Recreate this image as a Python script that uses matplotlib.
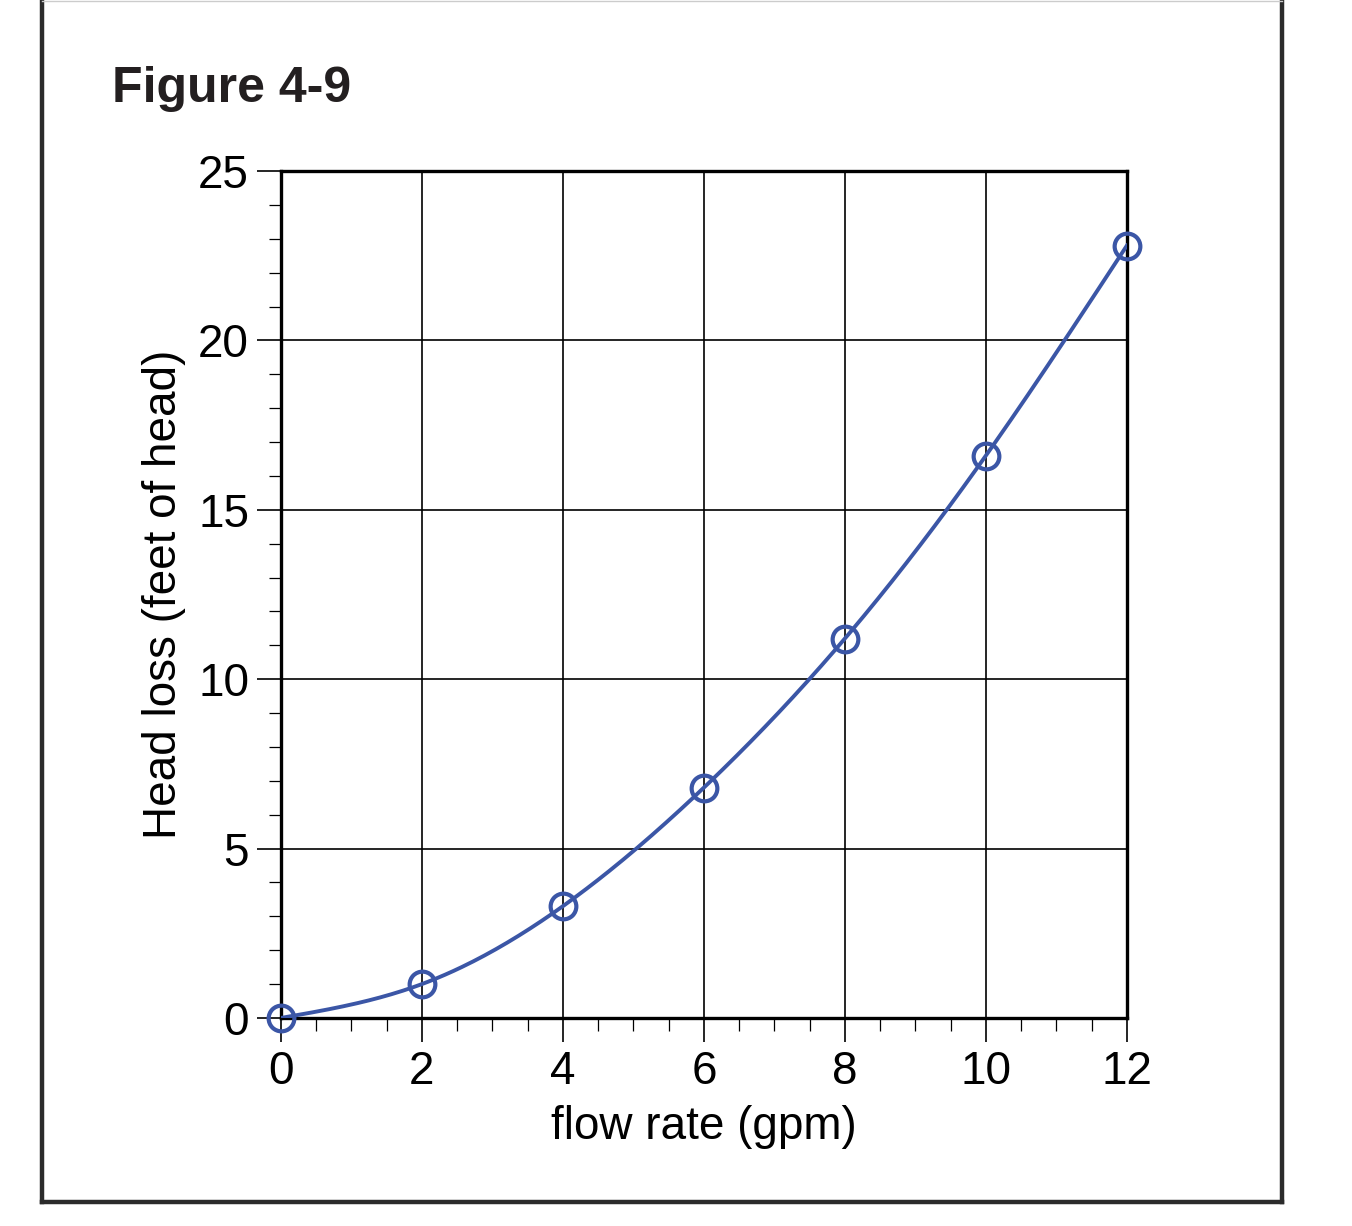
import numpy as np
import matplotlib.pyplot as plt
from matplotlib.lines import Line2D
from matplotlib.ticker import MultipleLocator

# data
flow_gpm = [0, 2, 4, 6, 8, 10, 12]
head_loss_ft = [0.0, 1.0, 3.3, 6.8, 11.2, 16.6, 22.8]

x_ticks = [0, 2, 4, 6, 8, 10, 12]
y_ticks = [0, 5, 10, 15, 20, 25]

BLUE = "#3b56a6"
plt.rcParams["font.family"] = ["Liberation Sans", "DejaVu Sans"]


# natural cubic spline through the points for the smooth curve
def natural_spline(x, y, n=300):
    x = np.asarray(x, float)
    y = np.asarray(y, float)
    k = len(x)
    h = np.diff(x)
    A = np.zeros((k, k))
    b = np.zeros(k)
    A[0, 0] = A[-1, -1] = 1
    for i in range(1, k - 1):
        A[i, i - 1] = h[i - 1]
        A[i, i] = 2 * (h[i - 1] + h[i])
        A[i, i + 1] = h[i]
        b[i] = 6 * ((y[i + 1] - y[i]) / h[i] - (y[i] - y[i - 1]) / h[i - 1])
    m = np.linalg.solve(A, b)
    xs = np.linspace(x[0], x[-1], n)
    idx = np.clip(np.searchsorted(x, xs) - 1, 0, k - 2)
    x0, x1 = x[idx], x[idx + 1]
    hh = x1 - x0
    t0, t1 = x1 - xs, xs - x0
    ys = (m[idx] * t0**3 / (6 * hh) + m[idx + 1] * t1**3 / (6 * hh)
          + (y[idx] / hh - m[idx] * hh / 6) * t0
          + (y[idx + 1] / hh - m[idx + 1] * hh / 6) * t1)
    return xs, ys


fig = plt.figure(figsize=(13.52, 12.26), dpi=100)
ax = fig.add_axes([0.2078, 0.1697, 0.6257, 0.6908])

xs, ys = natural_spline(flow_gpm, head_loss_ft)
ax.plot(xs, ys, color=BLUE, lw=2.8, zorder=3)
ax.plot(flow_gpm, head_loss_ft, "o", ms=18.5, mfc="none", mec=BLUE, mew=3.0,
        zorder=4, clip_on=False)

ax.set_xlim(0, 12)
ax.set_ylim(0, 25)
ax.set_xticks(x_ticks)
ax.set_yticks(y_ticks)
ax.xaxis.set_minor_locator(MultipleLocator(0.5))
ax.yaxis.set_minor_locator(MultipleLocator(1))
ax.grid(True, which="major", color="black", lw=1.2)
ax.set_axisbelow(True)

for s in ax.spines.values():
    s.set_linewidth(2.4)
ax.tick_params(which="major", direction="out", length=17, width=1.2,
               labelsize=33, pad=6)
ax.tick_params(which="minor", direction="out", length=9, width=0.9)

ax.set_xlabel("flow rate (gpm)", fontsize=33, labelpad=8)
ax.set_ylabel("Head loss (feet of head)", fontsize=33, labelpad=9)

fig.text(0.083, 0.917, "Figure 4-9", fontsize=36, fontweight="bold",
         color="#231f20", va="baseline")

# outer frame
fr = dict(color="#2b2b2b", lw=3.2, transform=fig.transFigure)
fig.add_artist(Line2D([0.031, 0.031], [0.0196, 1.0], **fr))
fig.add_artist(Line2D([0.948, 0.948], [0.0196, 1.0], **fr))
fig.add_artist(Line2D([0.031, 0.948], [0.0196, 0.0196], **fr))
fig.add_artist(Line2D([0.031, 0.948], [0.999, 0.999], color="#cccccc",
                      lw=1.0, transform=fig.transFigure))

fig.savefig("out.png", dpi=100)
